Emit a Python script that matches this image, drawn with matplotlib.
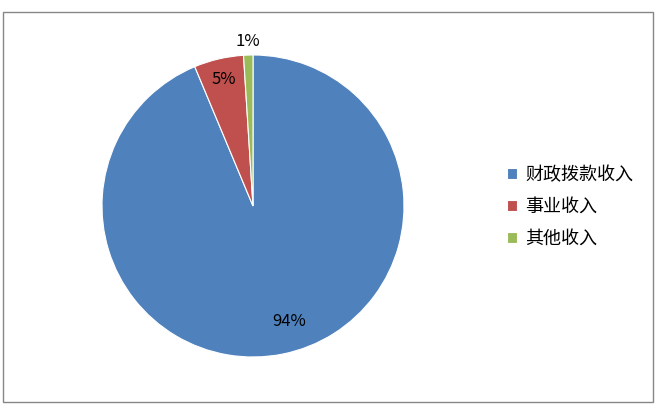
import numpy as np
import matplotlib.pyplot as plt
from matplotlib.patches import Rectangle

plt.rcParams['font.family'] = ['Noto Sans CJK SC', 'DejaVu Sans']

labels = ['财政拨款收入', '事业收入', '其他收入']
values = [93.7, 5.3, 1.0]
pct_text = ['94%', '5%', '1%']
colors = ['#4F81BD', '#C0504D', '#9BBB59']
# label placement: radius (fraction of pie radius) and angle shift (deg)
label_r = [0.80, 0.86, 1.09]
label_shift = [6, 0, 0]

W, H = 662, 411
fig = plt.figure(figsize=(W / 100, H / 100), dpi=100)

# outer chart border
fig.patches.append(Rectangle((3 / W, 9 / H), 650 / W, 390 / H, transform=fig.transFigure,
                             fill=False, edgecolor='#868686', linewidth=1.0))

cx, cy, r = 253, 206, 151
ax = fig.add_axes([(cx - r) / W, (H - cy - r) / H, 2 * r / W, 2 * r / H])
wedges, _ = ax.pie(values, colors=colors, startangle=90, counterclock=False,
                   wedgeprops=dict(edgecolor='white', linewidth=0.8))
ax.set_xlim(-1, 1)
ax.set_ylim(-1, 1)
ax.set_aspect('equal')
ax.axis('off')

for w, t, lr, sh in zip(wedges, pct_text, label_r, label_shift):
    ang = np.deg2rad((w.theta1 + w.theta2) / 2 + sh)
    ax.text(lr * np.cos(ang), lr * np.sin(ang), t, ha='center', va='center',
            fontsize=12, color='black')

fig.legend(wedges, labels, loc='center left', bbox_to_anchor=(491 / W, 1 - 207 / H),
           frameon=False, fontsize=13, handlelength=0.55, handleheight=0.55,
           handletextpad=0.45, labelspacing=0.78)

fig.savefig('out.png', dpi=100)
